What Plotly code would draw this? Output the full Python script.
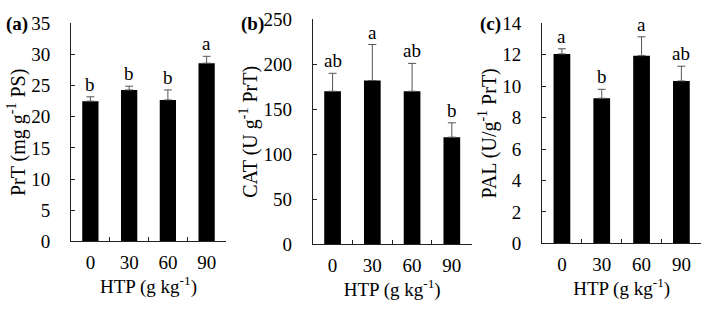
import plotly.graph_objects as go

categories = ["0", "30", "60", "90"]

prt_values = [22.5, 24.3, 22.7, 28.6]
prt_errors = [0.7, 0.6, 1.6, 1.1]
prt_letters = ["b", "b", "b", "a"]

cat_values = [170, 182, 170, 119]
cat_errors = [20, 40, 31, 16]
cat_letters = ["ab", "a", "ab", "b"]

pal_values = [12.05, 9.23, 11.94, 10.33]
pal_errors = [0.33, 0.57, 1.2, 0.94]
pal_letters = ["a", "b", "a", "ab"]

y_titles = ["PrT (mg g<sup>-1</sup> PS)", "CAT (U g<sup>-1</sup> PrT)", "PAL (U/g<sup>-1</sup> PrT)"]
x_title = "HTP (g kg<sup>-1</sup>)"
panel_labels = ["(a)", "(b)", "(c)"]
y_ranges = [[0, 35], [0, 250], [0, 14]]
y_dticks = [5, 50, 2]

W, H = 724, 316
FONT = "Liberation Serif"

x_domains = [[71 / W, 226 / W], [312.7 / W, 471.7 / W], [542 / W, 701.3 / W]]
y_domains = [[(H - 241.3) / H, (H - 23.3) / H],
             [(H - 244.3) / H, (H - 19.3) / H],
             [(H - 243.3) / H, (H - 23.3) / H]]

fig = go.Figure()
datasets = [(prt_values, prt_errors, prt_letters),
            (cat_values, cat_errors, cat_letters),
            (pal_values, pal_errors, pal_letters)]

annotations = []
for i, (vals, errs, letters) in enumerate(datasets):
    sfx = "" if i == 0 else str(i + 1)
    fig.add_trace(go.Bar(
        x=categories, y=vals, width=0.42,
        marker=dict(color="black", line=dict(width=0)),
        error_y=dict(type="data", array=errs, arrayminus=[0] * len(errs), symmetric=False,
                     color="#555555", thickness=1, width=4),
        xaxis="x" + sfx, yaxis="y" + sfx, showlegend=False,
    ))
    for j, (v, e, t) in enumerate(zip(vals, errs, letters)):
        annotations.append(dict(x=j, y=v + e, xref="x" + sfx, yref="y" + sfx, text=t,
                                showarrow=False, yanchor="bottom", yshift=0,
                                font=dict(family=FONT, size=19, color="black")))
    axis_common = dict(showline=True, linecolor="#222", linewidth=1, ticks="inside",
                       ticklen=4, tickcolor="#222", tickwidth=1, showgrid=False, zeroline=False,
                       automargin=False,
                       tickfont=dict(family=FONT, size=19, color="black"))
    fig.layout["xaxis" + sfx] = dict(
        domain=x_domains[i], anchor="y" + sfx, type="category", tickson="boundaries",
        ticklabelstandoff=4, range=[-0.5, 3.5],
        title=dict(text=x_title, font=dict(family=FONT, size=19, color="black"), standoff=6),
        **axis_common)
    fig.layout["yaxis" + sfx] = dict(
        domain=y_domains[i], anchor="x" + sfx, range=y_ranges[i], dtick=y_dticks[i],
        ticklabelstandoff=16,
        title=dict(text=y_titles[i], font=dict(family=FONT, size=20, color="black"), standoff=0),
        **axis_common)

label_x = [4, 239, 478]
for lx, lab in zip(label_x, panel_labels):
    annotations.append(dict(x=lx / W, y=(H - 24) / H, xref="paper", yref="paper", text="<b>" + lab + "</b>",
                            showarrow=False, xanchor="left", yanchor="middle",
                            font=dict(family=FONT, size=19, color="black")))

fig.update_layout(width=W, height=H, margin=dict(l=0, r=0, t=0, b=0, autoexpand=False),
                  paper_bgcolor="white", plot_bgcolor="white", annotations=annotations,
                  font=dict(family=FONT, color="black"))

fig.write_html("out.html", config={"displayModeBar": False},
               post_script="document.body.style.margin='0';")
